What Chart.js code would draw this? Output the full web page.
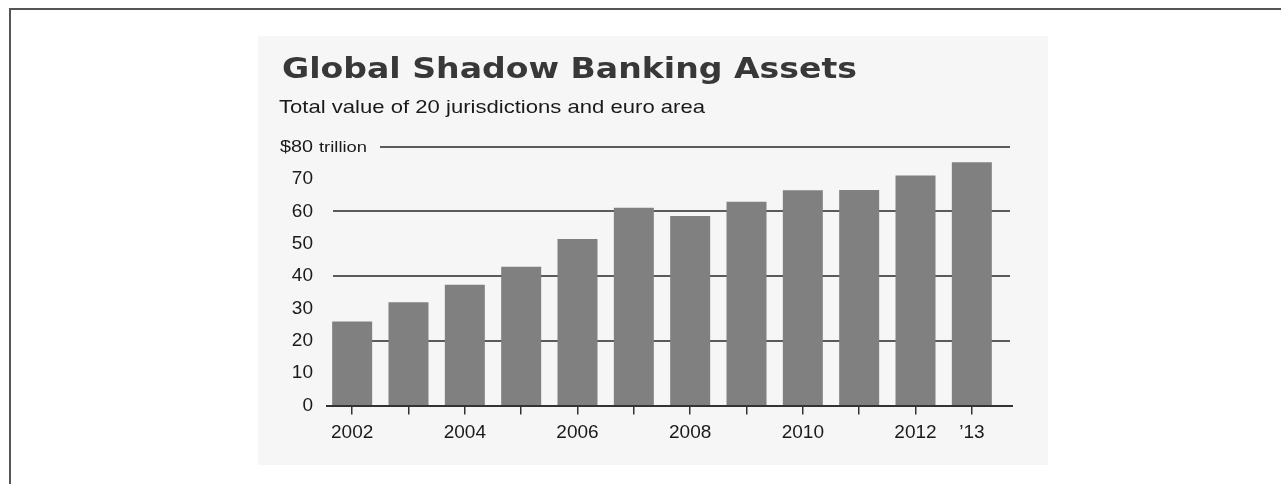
<!DOCTYPE html>
<html><head><meta charset="utf-8">
<script src="https://cdn.jsdelivr.net/npm/chart.js@4"></script>
<style>
html,body{margin:0;padding:0;background:#fff;width:1281px;height:484px;overflow:hidden}
#frame{position:absolute;left:9px;top:8px;width:1272px;height:476px;border-top:2px solid #555;border-left:2px solid #555;box-sizing:border-box}
#panel{position:absolute;left:258px;top:36px;width:790px;height:429px;background:#f6f6f6}
canvas{display:block}
</style></head><body>
<div id="frame"></div>
<div id="panel"><canvas id="c" width="790" height="429"></canvas></div>
<script>
// ---- data ----
const years = ["2002","2003","2004","2005","2006","2007","2008","2009","2010","2011","2012","2013"];
const xTickLabels = ["2002","","2004","","2006","","2008","","2010","","2012","\u201913"];
const assetsTrillion = [26, 31.9, 37.3, 42.9, 51.5, 61.1, 58.6, 63, 66.5, 66.6, 71.1, 75.2];
const yTickValues = [0,10,20,30,40,50,60,70,80];
const gridValues = [20,40,60,80];
const titleText = "Global Shadow Banking Assets";
const subtitleText = "Total value of 20 jurisdictions and euro area";
const topUnitValue = "$80";
const topUnitWord = "trillion";

function drawScaled(ctx, text, font, x, y, targetW, color){
  ctx.save();
  ctx.font = font; ctx.fillStyle = color;
  ctx.textBaseline = 'alphabetic'; ctx.textAlign = 'left';
  const w = ctx.measureText(text).width;
  ctx.translate(x, y); ctx.scale(targetW / w, 1);
  ctx.fillText(text, 0, 0);
  ctx.restore();
}

const decor = {
  id: 'decor',
  beforeDatasetsDraw(chart){
    const ctx = chart.ctx, y = chart.scales.y;
    ctx.save();
    ctx.strokeStyle = '#5a5a5a'; ctx.lineWidth = 2;
    gridValues.forEach(v => {
      const py = Math.round(y.getPixelForValue(v));
      ctx.beginPath();
      ctx.moveTo(v === 80 ? 122 : 75, py);
      ctx.lineTo(752, py);
      ctx.stroke();
    });
    ctx.restore();
  },
  afterDatasetsDraw(chart){
    const ctx = chart.ctx, y = chart.scales.y;
    const py = Math.round(y.getPixelForValue(0));
    ctx.save();
    ctx.strokeStyle = '#333'; ctx.lineWidth = 2;
    ctx.beginPath(); ctx.moveTo(68, py); ctx.lineTo(755, py); ctx.stroke();
    ctx.restore();
  },
  afterDraw(chart){
    const ctx = chart.ctx;
    const py = chart.scales.y.getPixelForValue(80);
    drawScaled(ctx, titleText, 'bold 29px "DejaVu Sans"', 24, 42, 575, '#383838');
    drawScaled(ctx, subtitleText, '18.5px "Liberation Sans"', 21, 76.7, 426, '#1a1a1a');
    drawScaled(ctx, topUnitValue, '16.5px "Liberation Sans"', 22, py + 5, 33, '#1a1a1a');
    drawScaled(ctx, topUnitWord, '14px "Liberation Sans"', 61, py + 5, 48, '#1a1a1a');
  }
};

new Chart(document.getElementById('c'), {
  type: 'bar',
  data: {
    labels: years,
    datasets: [{
      data: assetsTrillion,
      backgroundColor: '#808080',
      borderWidth: 0,
      categoryPercentage: 1,
      barPercentage: 0.71
    }]
  },
  options: {
    responsive: false,
    animation: false,
    events: [],
    layout: { padding: { top: 110.7, left: 0, right: 48, bottom: 0 } },
    plugins: { legend: { display: false }, tooltip: { enabled: false }, title: { display: false } },
    scales: {
      x: {
        grid: { offset: false, drawOnChartArea: false, drawTicks: true, tickLength: 9, color: '#333', lineWidth: 1.5 },
        border: { display: false },
        ticks: {
          autoSkip: false, maxRotation: 0, minRotation: 0, padding: 7,
          color: '#1a1a1a', font: { family: '"Liberation Sans", Arial, sans-serif', size: 19 },
          callback: (v, i) => xTickLabels[i]
        },
        afterFit: s => { s.height = 59.5; }
      },
      y: {
        min: 0, max: 80,
        afterBuildTicks: s => { s.ticks = yTickValues.map(v => ({ value: v })); },
        grid: { display: false, drawTicks: false },
        border: { display: false },
        ticks: {
          padding: 11, color: '#1a1a1a',
          font: { family: '"Liberation Sans", Arial, sans-serif', size: 19 },
          callback: v => (v === 80 ? '' : String(v))
        },
        afterFit: s => { s.width = 66; }
      }
    }
  },
  plugins: [decor]
});
</script>
</body></html>
